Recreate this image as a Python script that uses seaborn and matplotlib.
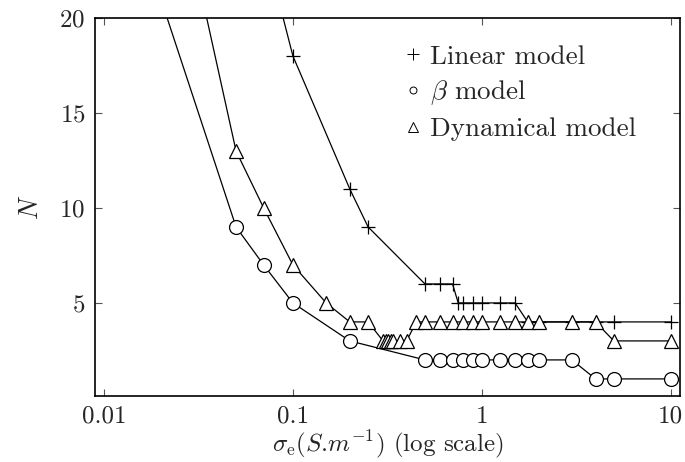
import matplotlib
matplotlib.use('Agg')
import matplotlib.pyplot as plt
import seaborn as sns
import pandas as pd
from matplotlib.lines import Line2D

## 데이터
linear_sigma = [0.07, 0.1, 0.2, 0.25, 0.5, 0.6, 0.7, 0.75, 0.8, 0.9, 1, 1.25, 1.5,
                1.75, 2, 3, 4, 5, 10]
linear_n = [24, 18, 11, 9, 6, 6, 6, 5, 5, 5, 5, 5, 5, 4, 4, 4, 4, 4, 4]

beta_sigma = [0.02, 0.05, 0.07, 0.1, 0.2, 0.5, 0.6, 0.7, 0.8, 0.9, 1, 1.25, 1.5,
              1.75, 2, 3, 4, 5, 10]
beta_n = [21, 9, 7, 5, 3, 2, 2, 2, 2, 2, 2, 2, 2, 2, 2, 2, 1, 1, 1]

dyn_sigma = [0.03, 0.05, 0.07, 0.1, 0.15, 0.2, 0.25, 0.3, 0.31, 0.32, 0.33, 0.34,
             0.37, 0.4, 0.45, 0.5, 0.6, 0.7, 0.8, 0.9, 1, 1.25, 1.5, 1.75, 2, 3,
             4, 5, 10]
dyn_n = [23, 13, 10, 7, 5, 4, 4, 3, 3, 3, 3, 3, 3, 3, 4, 4, 4, 4, 4, 4, 4, 4, 4,
         4, 4, 4, 4, 3, 3]

x_ticks = [0.01, 0.1, 1, 10]
x_tick_labels = ['0.01', '0.1', '1', '10']
y_ticks = [5, 10, 15, 20]

## 스타일 설정
sns.set_style('ticks')
plt.rcParams['font.family'] = 'serif'
plt.rcParams['font.serif'] = ['cmr10']
plt.rcParams['mathtext.fontset'] = 'cm'
plt.rcParams['axes.formatter.use_mathtext'] = True

fig = plt.figure(figsize=(6.85, 4.62), dpi=100)
ax = fig.add_axes([95 / 685, 1 - 396 / 462, 585 / 685, 378 / 462])

series = [
    (linear_sigma, linear_n, '+', 10),
    (beta_sigma, beta_n, 'o', 10),
    (dyn_sigma, dyn_n, '^', 9.5),
]
for xs, ns, mk, ms in series:
    df = pd.DataFrame({'sigma': xs, 'N': ns})
    sns.lineplot(data=df, x='sigma', y='N', ax=ax, color='black', lw=0.9,
                 marker=mk, markersize=ms, mfc='white', mec='black', mew=0.9,
                 estimator=None, sort=False)

ax.set_xscale('log')
ax.set_xlim(0.00896, 11.2)
ax.set_ylim(0.1, 20)
ax.set_xticks(x_ticks)
ax.set_xticklabels(x_tick_labels)
ax.minorticks_off()
ax.set_yticks(y_ticks)
ax.tick_params(direction='in', length=5, width=0.8, color='#555555',
               labelsize=18, top=True, right=True, pad=7)
for s in ax.spines.values():
    s.set_linewidth(1.2)
    s.set_color('black')

ax.set_xlabel(r'$\sigma_{\rm e}(S$.$m^{-1})$ (log scale)', fontsize=18, labelpad=0)
ax.set_ylabel(r'$N$', fontsize=19, labelpad=12)

## 범례 (마커만)
handles = [
    Line2D([], [], ls='none', marker='+', ms=8, mec='black', mew=0.7),
    Line2D([], [], ls='none', marker='o', ms=5, mfc='white', mec='black', mew=0.7),
    Line2D([], [], ls='none', marker='^', ms=7, mfc='white', mec='black', mew=0.7),
]
labels = ['Linear model', r'$\beta$ model', 'Dynamical model']
ax.legend(handles, labels, loc='upper left', bbox_to_anchor=(0.511, 0.958),
          frameon=False, fontsize=19.5, handlelength=0.6, handletextpad=0.33,
          labelspacing=0.37, borderaxespad=0)

fig.savefig('out.png', dpi=100)
